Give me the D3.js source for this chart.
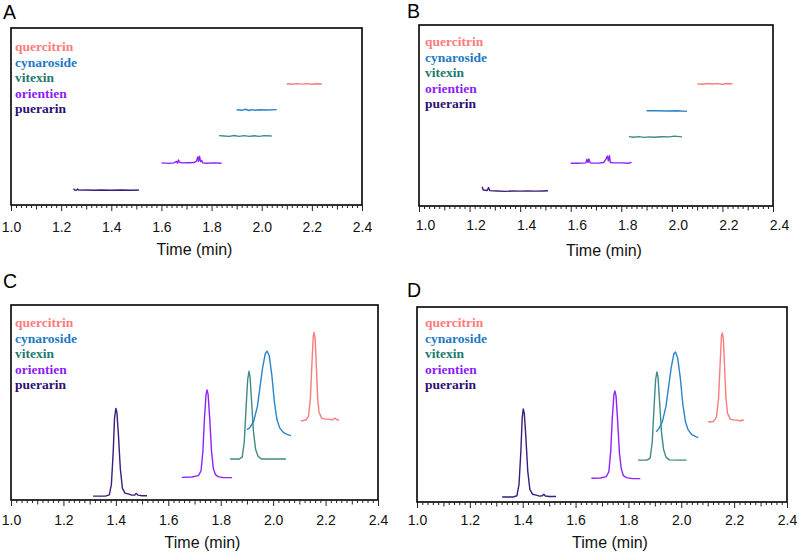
<!DOCTYPE html>
<html><head><meta charset="utf-8">
<script src="https://cdn.jsdelivr.net/npm/d3@7"></script>
<style>body{margin:0;background:#fff}</style>
</head><body>
<svg id="chart" width="799" height="552"></svg>
<script>
// ---------- data ----------
const compounds = ["quercitrin", "cynaroside", "vitexin", "orientien", "puerarin"];
const xTickLabels = [1.0, 1.2, 1.4, 1.6, 1.8, 2.0, 2.2, 2.4];
const axisTitle = "Time (min)";
const panelLabels = ["A", "B", "C", "D"];

// Panel A (time, relative response)
const aPuerarin = [[1.25,9.3],[1.253,8.6],[1.258,8.3],[1.262,8.4],[1.266,9.0],[1.27,8.4],[1.30,8.5],[1.33,8.3],[1.36,8.5],[1.40,8.3],[1.44,8.5],[1.48,8.3],[1.51,8.5]];
const aOrientien = [[1.60,23.8],[1.63,23.5],[1.65,23.8],[1.66,24.6],[1.664,23.6],[1.668,25.4],[1.672,24.2],[1.68,23.8],[1.71,23.9],[1.73,24.0],[1.74,24.8],[1.745,27.2],[1.748,24.6],[1.752,27.6],[1.756,24.5],[1.76,25.2],[1.765,23.8],[1.78,23.6],[1.81,23.8],[1.84,23.6]];
const aVitexin = [[1.83,39.2],[1.85,39.0],[1.87,38.8],[1.89,39.3],[1.91,38.8],[1.93,39.2],[1.95,38.8],[1.97,39.1],[1.99,38.8],[2.01,39.2],[2.04,39.0]];
const aCynaroside = [[1.90,53.8],[1.92,53.5],[1.935,54.1],[1.95,53.4],[1.96,53.9],[1.975,53.5],[1.99,53.8],[2.02,53.7],[2.06,53.9]];
const aQuercitrin = [[2.10,68.5],[2.12,68.2],[2.14,68.6],[2.16,68.3],[2.18,68.6],[2.20,68.2],[2.22,68.5],[2.24,68.4]];

// Panel B
const bPuerarin = [[1.25,10.6],[1.254,8.8],[1.27,8.6],[1.275,10.2],[1.28,8.5],[1.31,8.3],[1.34,8.1],[1.37,8.3],[1.40,8.2],[1.43,8.3],[1.46,8.2],[1.49,8.3],[1.51,8.4]];
const bOrientien = [[1.60,23.6],[1.63,23.6],[1.66,23.8],[1.664,25.8],[1.668,24.0],[1.672,26.0],[1.676,24.2],[1.68,23.7],[1.71,23.7],[1.73,24.0],[1.74,26.0],[1.745,27.6],[1.749,25.0],[1.753,27.8],[1.757,24.0],[1.77,23.8],[1.80,23.8],[1.83,23.6],[1.84,24.2]];
const bVitexin = [[1.83,38.3],[1.85,38.0],[1.87,38.3],[1.89,37.9],[1.91,38.2],[1.93,38.0],[1.96,38.3],[1.99,38.2],[2.01,38.6],[2.04,38.2]];
const bCynaroside = [[1.90,52.6],[1.94,52.6],[1.98,52.5],[2.02,52.6],[2.06,52.3]];
const bQuercitrin = [[2.10,67.5],[2.12,67.3],[2.14,67.7],[2.16,67.4],[2.18,67.6],[2.20,67.3],[2.22,67.7],[2.24,67.4]];

// Panel C
const cPuerarin = [[1.313,2.0],[1.36,2.0],[1.375,2.6],[1.383,8],[1.39,25],[1.395,42],[1.40,47],[1.404,45],[1.41,33],[1.417,16],[1.425,6],[1.435,3.5],[1.45,3],[1.46,2.5],[1.472,2.6],[1.478,3.4],[1.484,2.5],[1.50,2.2],[1.519,2.2]];
const cOrientien = [[1.652,11.6],[1.69,11.8],[1.715,12.5],[1.725,15],[1.732,25],[1.738,42],[1.744,54],[1.748,56.4],[1.752,54],[1.758,42],[1.765,25],[1.772,16],[1.78,13],[1.79,12],[1.81,11.5],[1.843,11.5]];
const cVitexin = [[1.836,21],[1.87,21],[1.882,22],[1.89,30],[1.897,48],[1.903,62],[1.908,66],[1.912,63],[1.918,50],[1.925,35],[1.933,26],[1.942,22.5],[1.955,21],[1.99,21],[2.049,21]];
const cCynaroside = [[1.90,36],[1.91,37],[1.925,40],[1.94,48],[1.95,58],[1.96,68],[1.97,75],[1.977,76.4],[1.985,74],[1.995,64],[2.005,50],[2.015,41],[2.025,37],[2.04,34.5],[2.055,33.5],[2.068,33]];
const cQuercitrin = [[2.106,40.5],[2.125,41],[2.135,43],[2.142,52],[2.148,70],[2.153,84],[2.156,86],[2.16,83],[2.165,68],[2.17,52],[2.175,45],[2.185,42],[2.2,41.5],[2.215,41.5],[2.225,41],[2.235,42],[2.245,41],[2.251,41]];

// Panel D
const dPuerarin = [[1.322,2.6],[1.365,2.6],[1.378,3.2],[1.386,9],[1.393,26],[1.398,43],[1.402,47.7],[1.406,45.5],[1.412,33],[1.419,16],[1.427,6.5],[1.437,4],[1.452,3.5],[1.463,3],[1.474,3.2],[1.48,4],[1.486,3.1],[1.50,2.8],[1.526,2.8]];
const dOrientien = [[1.66,12.2],[1.695,12.3],[1.716,13],[1.726,15.5],[1.733,26],[1.739,43],[1.745,55],[1.749,56.9],[1.753,54.5],[1.759,42],[1.766,25],[1.773,17],[1.781,13.5],[1.792,12.5],[1.815,12],[1.845,12]];
const dVitexin = [[1.836,21.5],[1.87,21.5],[1.882,22.5],[1.89,30.5],[1.897,49],[1.903,63],[1.908,66.7],[1.912,64],[1.918,51],[1.925,36],[1.933,27],[1.942,23],[1.955,21.6],[1.99,21.5],[2.02,21.5]];
const dCynaroside = [[1.905,36],[1.915,37.5],[1.928,41],[1.942,49],[1.952,59],[1.962,69],[1.972,76],[1.978,76.9],[1.986,74],[1.996,64],[2.006,50],[2.016,41],[2.026,37],[2.04,34.5],[2.055,33.5],[2.064,33]];
const dQuercitrin = [[2.102,41],[2.122,41.3],[2.133,43.5],[2.141,53],[2.147,71],[2.152,85],[2.155,86.7],[2.159,84],[2.164,69],[2.169,53],[2.175,45.5],[2.185,42.5],[2.2,42],[2.215,42],[2.225,41.5],[2.232,42.2],[2.235,41.6]];

// ---------- styles / layout ----------
const lineColors = {quercitrin:"#f87c7c", cynaroside:"#2a84cc", vitexin:"#3f8a86", orientien:"#8f22ff", puerarin:"#3b1d7c"};
const legendColors = {quercitrin:"#ff7b7b", cynaroside:"#1c79c4", vitexin:"#1e7a70", orientien:"#8a1cff", puerarin:"#2c1070"};

const panels = [
  {label:panelLabels[0], lx:3, ly:19, f:{x0:11,x1:362,y0:28,y1:205}, legX:15, legY:51, tickY:227, titleY:249,
   series:{quercitrin:aQuercitrin, cynaroside:aCynaroside, vitexin:aVitexin, orientien:aOrientien, puerarin:aPuerarin}},
  {label:panelLabels[1], lx:407, ly:18, f:{x0:419,x1:773,y0:25,y1:206}, legX:425, legY:46, tickY:225, titleY:250, labelShift:6,
   series:{quercitrin:bQuercitrin, cynaroside:bCynaroside, vitexin:bVitexin, orientien:bOrientien, puerarin:bPuerarin}},
  {label:panelLabels[2], lx:3, ly:288, f:{x0:11,x1:378,y0:305,y1:500}, legX:15, legY:327, tickY:520, titleY:542,
   series:{quercitrin:cQuercitrin, cynaroside:cCynaroside, vitexin:cVitexin, orientien:cOrientien, puerarin:cPuerarin}},
  {label:panelLabels[3], lx:407, ly:297, f:{x0:417,x1:787,y0:307,y1:502}, legX:425, legY:327, tickY:520, titleY:542,
   series:{quercitrin:dQuercitrin, cynaroside:dCynaroside, vitexin:dVitexin, orientien:dOrientien, puerarin:dPuerarin}}
];

const svg = d3.select("#chart");
const minorTicks = d3.range(0, 71).map(i => +(1 + i * 0.02).toFixed(2));

panels.forEach(p => {
  const g = svg.append("g");
  const x = d3.scaleLinear().domain([1.0, 2.4]).range([p.f.x0, p.f.x1]);
  const y = d3.scaleLinear().domain([0, 100]).range([p.f.y1, p.f.y0]);

  g.append("text").attr("x", p.lx).attr("y", p.ly)
    .attr("font-family", "Liberation Sans, Arial, sans-serif").attr("font-size", 19.5).attr("fill", "#000")
    .text(p.label);

  g.append("rect").attr("x", p.f.x0).attr("y", p.f.y0)
    .attr("width", p.f.x1 - p.f.x0).attr("height", p.f.y1 - p.f.y0)
    .attr("fill", "none").attr("stroke", "#000").attr("stroke-width", 1.6);

  const tickAxis = d3.axisBottom(x).tickValues(minorTicks).tickFormat("").tickSizeOuter(0);
  const ta = g.append("g").attr("transform", `translate(0,${p.f.y1})`).call(tickAxis);
  ta.select(".domain").remove();
  ta.selectAll(".tick line")
    .attr("stroke", "#222").attr("stroke-width", 1)
    .attr("y2", d => {
      const k = Math.round(d * 100);
      if (k % 20 === 0) return 6;
      if (k % 10 === 0) return 4.5;
      return 3;
    });

  const labAxis = d3.axisBottom(x).tickValues(xTickLabels).tickFormat(d3.format(".1f")).tickSize(0).tickPadding(0);
  const la = g.append("g").attr("transform", `translate(${p.labelShift || 0},0)`).call(labAxis);
  la.select(".domain").remove();
  la.selectAll(".tick text")
    .attr("y", p.tickY).attr("dy", "0.36em")
    .attr("font-family", "Liberation Sans, Arial, sans-serif").attr("font-size", 14).attr("fill", "#111");

  g.append("text").attr("x", (p.f.x0 + p.f.x1) / 2 + 8).attr("y", p.titleY).attr("dy", "0.36em")
    .attr("text-anchor", "middle")
    .attr("font-family", "Liberation Sans, Arial, sans-serif").attr("font-size", 16).attr("fill", "#111")
    .text(axisTitle);

  const line = d3.line().x(d => x(d[0])).y(d => y(d[1]));
  compounds.forEach(c => {
    g.append("path").datum(p.series[c])
      .attr("d", line).attr("fill", "none")
      .attr("stroke", lineColors[c]).attr("stroke-width", 1.4)
      .attr("stroke-linejoin", "round");
  });

  compounds.forEach((c, i) => {
    g.append("text").attr("x", p.legX).attr("y", p.legY + i * 15.6)
      .attr("font-family", "Liberation Serif, Times New Roman, serif").attr("font-weight", "bold")
      .attr("font-size", 13.5).attr("fill", legendColors[c])
      .text(c);
  });
});
</script>
</body></html>
